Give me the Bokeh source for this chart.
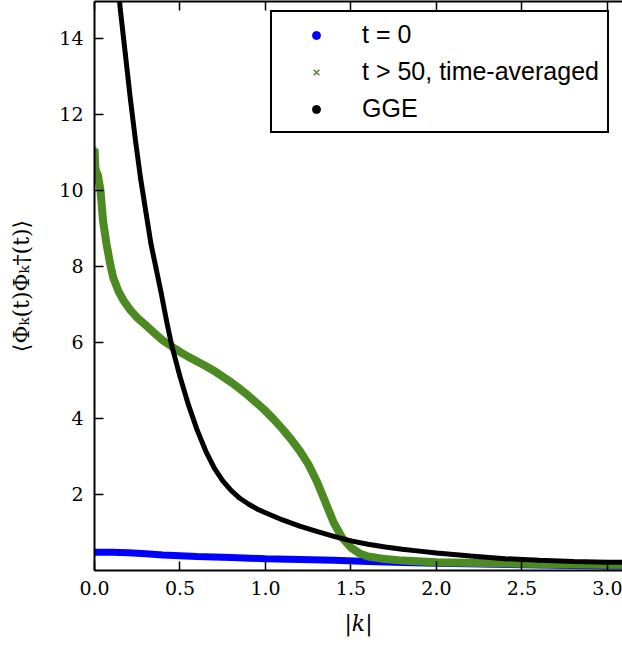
from bokeh.plotting import figure
from bokeh.models import (Range1d, FixedTicker, PrintfTickFormatter, LinearAxis,
                          Legend, LegendItem)
from bokeh.embed import file_html
from bokeh.resources import INLINE

# ---- data ----
x_ticks = [0.0, 0.5, 1.0, 1.5, 2.0, 2.5, 3.0]
y_ticks = [2, 4, 6, 8, 10, 12, 14]

# t = 0
k_t0 = [0.0, 0.1, 0.2, 0.3, 0.4, 0.5, 0.6, 0.8, 1.0, 1.2, 1.4, 1.6, 1.8, 2.0,
        2.5, 3.0, 3.1416]
phi_t0 = [0.48, 0.48, 0.47, 0.44, 0.41, 0.39, 0.37, 0.34, 0.31, 0.29, 0.27,
          0.24, 0.21, 0.19, 0.15, 0.12, 0.12]

# t > 50, time-averaged
k_avg = [0.0, 0.005, 0.01, 0.02, 0.035, 0.05, 0.07, 0.09, 0.11, 0.14, 0.17,
         0.21, 0.25, 0.30, 0.35, 0.40, 0.45, 0.50, 0.55, 0.60, 0.65, 0.70,
         0.75, 0.80, 0.85, 0.90, 0.95, 1.00, 1.05, 1.10, 1.15, 1.20, 1.25,
         1.30, 1.35, 1.40, 1.45, 1.50, 1.55, 1.60, 1.70, 1.80, 2.0, 2.5, 3.0,
         3.1416]
phi_avg = [11.1, 10.6, 10.5, 10.4, 10.0, 9.2, 8.6, 8.1, 7.7, 7.35, 7.1,
           6.85, 6.65, 6.45, 6.25, 6.05, 5.9, 5.75, 5.62, 5.5, 5.38, 5.25,
           5.1, 4.95, 4.78, 4.6, 4.4, 4.2, 3.97, 3.72, 3.45, 3.15, 2.8,
           2.35, 1.8, 1.25, 0.85, 0.6, 0.45, 0.37, 0.30, 0.26, 0.22, 0.18,
           0.15, 0.15]

# GGE
k_gge = [0.12, 0.15, 0.18, 0.21, 0.24, 0.27, 0.30, 0.33, 0.36, 0.39, 0.42,
         0.45, 0.50, 0.55, 0.60, 0.65, 0.70, 0.75, 0.80, 0.85, 0.90, 0.95,
         1.00, 1.10, 1.20, 1.30, 1.40, 1.50, 1.60, 1.70, 1.80, 1.90, 2.00,
         2.20, 2.40, 2.60, 2.80, 3.00, 3.1416]
phi_gge = [16.5, 14.8, 13.6, 12.4, 11.3, 10.3, 9.45, 8.6, 7.95, 7.3, 6.6,
           5.95, 5.1, 4.35, 3.7, 3.15, 2.7, 2.36, 2.1, 1.9, 1.75, 1.62,
           1.52, 1.33, 1.17, 1.03, 0.9, 0.78, 0.69, 0.62, 0.56, 0.51, 0.46,
           0.38, 0.31, 0.27, 0.24, 0.22, 0.21]

labels = ["t = 0", "t > 50, time-averaged", "GGE"]
BLUE, GREEN, BLACK = "#0000ff", "#4b8b21", "#000000"

TICK_FONT = "DejaVu Serif"

p = figure(width=622, height=646,
           x_range=Range1d(0, 3.088), y_range=Range1d(0.0, 14.97),
           output_backend="svg", toolbar_location=None,
           min_border_left=94, min_border_right=0, min_border_top=1,
           min_border_bottom=76,
           x_axis_label="|k|",
           y_axis_label="\u27e8\u03a6\u2096(t)\u03a6\u2096\u2020(t)\u27e9")

p.outline_line_color = None
p.xgrid.visible = False
p.ygrid.visible = False
p.background_fill_color = "white"
p.border_fill_color = "white"

for ax, ticks, fmt in ((p.xaxis[0], x_ticks, "%.1f"), (p.yaxis[0], y_ticks, "%d")):
    ax.ticker = FixedTicker(ticks=ticks)
    ax.formatter = PrintfTickFormatter(format=fmt)
    ax.major_tick_in = 9
    ax.major_tick_out = 0
    ax.minor_tick_line_color = None
    ax.axis_line_width = 2
    ax.axis_line_color = "black"
    ax.major_tick_line_width = 1.5
    ax.major_label_text_font = TICK_FONT
    ax.major_label_text_font_size = "19px"
    ax.major_label_text_color = "black"
    ax.axis_label_text_font = "DejaVu Serif"
    ax.axis_label_text_color = "black"

p.xaxis[0].major_label_standoff = 10
p.xaxis[0].axis_label_standoff = 13
p.xaxis[0].axis_label_text_font_size = "22px"
p.xaxis[0].axis_label_text_font_style = "italic"
p.yaxis[0].major_label_standoff = 11
p.yaxis[0].axis_label_standoff = 22
p.yaxis[0].axis_label_text_font_size = "22px"
p.yaxis[0].axis_label_text_font_style = "normal"

# top spine with inward tick marks (no labels)
top_axis = LinearAxis(ticker=FixedTicker(ticks=[], minor_ticks=x_ticks),
                      major_tick_in=0, major_tick_out=0,
                      minor_tick_in=9, minor_tick_out=0,
                      minor_tick_line_width=1.5, minor_tick_line_color="black",
                      axis_line_width=2, axis_line_color="black", axis_label=None)
p.add_layout(top_axis, "above")

# series: a band (line) plus the markers
p.line(k_t0, phi_t0, line_color=BLUE, line_width=7)
s_b = p.scatter(k_t0, phi_t0, marker="circle", size=3.5, color=BLUE)
p.line(k_avg, phi_avg, line_color=GREEN, line_width=8)
s_g = p.scatter(k_avg, phi_avg, marker="x", size=5, line_color=GREEN, line_width=1.5)
p.line(k_gge, phi_gge, line_color=BLACK, line_width=5)
s_k = p.scatter(k_gge, phi_gge, marker="circle", size=3.5, color=BLACK)

legend = Legend(items=[LegendItem(label=labels[0], renderers=[s_b]),
                       LegendItem(label=labels[1], renderers=[s_g]),
                       LegendItem(label=labels[2], renderers=[s_k])],
                location=(176, 437),
                glyph_width=72, glyph_height=20, label_height=27,
                spacing=8, padding=8, label_standoff=10, margin=0,
                label_text_font="Liberation Sans", label_text_font_size="25px",
                label_text_color="black",
                border_line_color="black", border_line_width=2,
                border_line_alpha=1.0,
                background_fill_color="white", background_fill_alpha=1.0)
p.add_layout(legend)

open("out.html", "w").write(file_html(p, INLINE))
